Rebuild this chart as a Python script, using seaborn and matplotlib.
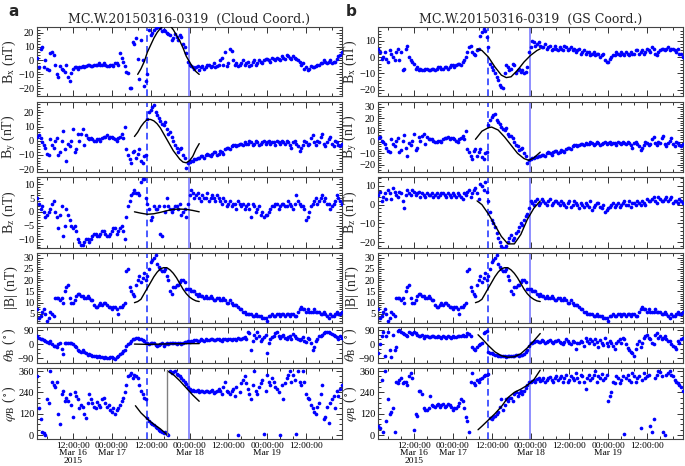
import matplotlib
matplotlib.use("Agg")
import matplotlib.pyplot as plt
import pandas as pd
import seaborn as sns
from matplotlib.ticker import FixedLocator, MultipleLocator

# ---------------- data (hours since 2015-03-16 00:00 UT) ----------------
hours = list(range(1, 96))                       # on-the-hour samples
hours_half = [h + 0.5 for h in range(1, 95)]     # half-hour samples

# Cloud coordinates (panel a) -- hourly
bx_cloud = [2, 8, -5, -6, 5, 4, -10, -4, -7, -3,
            -15, -6, -5, -5, -4, -4, -3, -4, -3, -2,
            -3, -3, -4, -3, -2, -3, 2, -4, -9, -20,
            12, 1, 15, -18, -10, 18, 22, 24, 23, 22,
            20, 18, 16, 17, 18, 12, 5, -3, -5, -5,
            -7, -4, -5, -3, -4, -5, -3, 2, 6, -2,
            7, -3, -4, -2, -3, -1, -3, 0, -2, -1,
            0, 1, -1, 1, 2, 0, 2, 4, 2, 3,
            1, -1, -2, -5, -6, -5, -4, -3, -2, -1,
            -1, -2, -1, 3, 6]
by_cloud = [3, 2, -3, -9, 1, -5, 2, -8, 7, -14,
            -4, 8, -6, 0, 8, 4, 1, 1, 0, 1,
            2, 3, 2, 3, 1, 2, 5, 10, -10, -16,
            -7, -9, -14, -11, 15, 22, 25, 18, 14, 11,
            8, 6, 0, -5, -6, -10, -19, -15, -14, -13,
            -12, -11, -10, -10, -9, -8, -9, -8, -6, -5,
            -4, -3, -3, -2, -1, -2, -1, -2, -1, -2,
            0, -1, -2, -1, 0, -2, -1, 0, -3, -1,
            -2, -7, -3, -1, -2, 4, -3, -1, 5, -4,
            1, -2, 0, -3, -2]
bz_cloud = [5, 1, 0, -1, 1, 4, -2, -1, -9, 1,
            -3, -6, -7, -11, -12, -10, -11, -9, -8, -9,
            -7, -8, -9, -7, -6, -7, -5, -10, 2, 6,
            8, 7, 11, 12, 3, -3, 2, 1, -8, 2,
            5, 1, 1, 2, 3, 0, -2, 6, 7, 6,
            5, 6, 5, 4, 6, 4, 5, 3, 4, 3,
            2, 3, 4, 2, 1, 3, -2, 2, 1, -1,
            -2, -1, 1, 2, 3, 2, 3, 2, 3, 1,
            6, 3, 2, -3, 0, 3, 5, 4, 6, 5,
            3, 2, 4, 5, 3]
b_total = [7, 4, 7, 2, 6, 4, 12, 11, 10, 17,
           12, 10, 13, 14, 13, 12, 12, 11, 8, 9,
           9, 10, 8, 7, 8, 5, 8, 10, 25, 15,
           13, 20, 19, 23, 22, 28, 30, 27, 25, 24,
           22, 15, 17, 18, 19, 20, 16, 16, 15, 14,
           14, 13, 13, 12, 12, 11, 12, 11, 11, 10,
           10, 9, 8, 7, 6, 5, 5, 4, 4, 4,
           3, 2, 4, 4, 5, 4, 5, 5, 4, 5,
           4, 7, 7, 6, 6, 6, 6, 6, 5, 5,
           3, 4, 5, 5, 6]
theta_cloud = [55, 35, 25, 15, 20, -10, -20, 5, -65, 5,
               10, 0, -20, -45, -40, -60, -65, -75, -80, -80,
               -85, -85, -90, -85, -95, -75, -55, -35, 0, 20,
               35, 40, 30, 20, 5, 10, 5, -10, 0, -15,
               5, 10, 5, 0, 10, 10, 15, 15, 20, 25,
               20, 25, 30, 25, 30, 25, 35, 20, 30, 35,
               25, 30, 40, 30, 45, 80, -35, 60, 75, 20,
               45, -60, 30, 55, 80, 40, 60, 30, 55, 65,
               40, 25, 45, 15, 30, -35, 20, 50, 60, 75,
               80, 65, 55, 30, 40]
phi_cloud = [330, 90, 10, 200, 360, 280, 300, 60, 250, 210,
             230, 100, 220, 150, 160, 95, 230, 180, 150, 170,
             200, 180, 170, 130, 120, 150, 190, 240, 330, 350,
             340, 320, 250, 210, 95, 70, 55, 40, 25, 10,
             5, 360, 355, 345, 330, 310, 285, 260, 255, 250,
             240, 250, 245, 240, 255, 240, 260, 230, 300, 240,
             250, 220, 0, 290, 330, 260, 200, 360, 230, 290,
             5, 340, 280, 300, 260, 0, 200, 320, 360, 340,
             5, 300, 360, 230, 200, 150, 120, 180, 280, 100,
             70, 200, 150, 220, 280]

# Cloud coordinates -- half-hour samples
bx_cloud_half = [-5, 10, 0, -7, 6, -3, -12, -6, -8, -12,
                 -9, -5, -6, -5, -5, -3, -4, -3, -3, -3,
                 -2, -4, -3, -4, -2, 5, -1, -8, -20, 13,
                 16, -13, 0, -15, 22, 20, 23, 24, 21, 21,
                 19, 15, 19, 15, 17, 10, -1, -4, -6, -4,
                 -5, -6, -3, -5, -2, -4, 0, -3, -4, 8,
                 0, -2, -3, 0, -2, -4, -1, -3, 0, -2,
                 1, 0, 2, 0, 1, 3, 1, 3, 1, 2,
                 0, -3, -6, -7, -4, -5, -3, -2, 0, -2,
                 0, -1, 1, 4]
by_cloud_half = [4, -1, -5, -10, -3, 0, -10, 0, -6, -2,
                 0, -8, 5, 5, -3, 2, 2, 0, 1, 0,
                 3, 4, 3, 2, 0, 3, 2, -6, -13, -8,
                 -12, -6, -16, -10, 20, 24, 20, 16, 12, 13,
                 5, 3, -3, -8, -5, -12, -16, -14, -13, -12,
                 -11, -12, -9, -11, -8, -10, -7, -9, -5, -6,
                 -3, -4, -2, -3, -2, 0, -3, 0, -3, -1,
                 -2, 0, -1, -3, -1, 0, -2, -1, -5, 0,
                 -4, -5, 0, -3, 2, -1, 0, 3, -2, -1,
                 3, -4, -1, -4]
bz_cloud_half = [3, 2, -2, 0, 3, 0, -6, 2, -5, -1,
                 -5, -5, -10, -12, -11, -10, -10, -8, -9, -8,
                 -7, -9, -8, -6, -8, -6, -7, -2, 4, 7,
                 7, 6, 12, 5, 1, -2, 1, 2, -9, 0,
                 2, 0, 2, 1, -1, 1, 3, 8, 5, 7,
                 4, 5, 7, 5, 5, 6, 4, 5, 2, 4,
                 3, 1, 3, 3, 2, 1, 3, 0, 2, 0,
                 -1, 0, 2, 3, 1, 3, 2, 4, 2, 3,
                 4, 2, 1, -2, 2, 4, 3, 5, 4, 3,
                 1, 3, 6, 4]
b_total_half = [3, 6, 5, 3, 5, 12, 12, 12, 15, 18,
                10, 11, 14, 13, 12, 13, 11, 9, 8, 10,
                10, 9, 8, 8, 7, 8, 9, 24, 17, 14,
                18, 22, 21, 20, 25, 29, 31, 26, 24, 25,
                20, 14, 17, 18, 20, 19, 16, 15, 15, 13,
                13, 12, 12, 13, 11, 12, 11, 12, 10, 11,
                9, 9, 7, 6, 5, 5, 4, 5, 4, 3,
                3, 4, 5, 4, 5, 5, 4, 5, 5, 4,
                6, 8, 7, 7, 6, 7, 6, 5, 6, 4,
                5, 4, 6, 5]
theta_cloud_half = [40, 30, 20, 10, 0, -15, 0, -30, 10, 5,
                    5, -10, -35, -50, -50, -70, -70, -80, -85, -85,
                    -90, -88, -85, -90, -85, -65, -45, -15, 10, 30,
                    40, 35, 25, 10, 0, 5, -5, -5, 5, 0,
                    0, 5, 10, 5, 0, 15, 20, 20, 25, 20,
                    30, 20, 25, 30, 25, 30, 25, 35, 25, 30,
                    35, 25, 35, 40, 30, 70, 20, 40, 50, 35,
                    60, 10, 45, 70, 50, 55, 40, 45, 35, 50,
                    30, 35, 20, 40, 10, -20, 35, 55, 70, 80,
                    70, 60, 45, 50]
phi_cloud_half = [150, 20, 0, 180, 300, 270, 120, 230, 190, 190,
                  170, 240, 200, 170, 120, 180, 200, 160, 185, 160,
                  210, 160, 140, 150, 140, 170, 210, 280, 340, 320,
                  330, 280, 230, 200, 80, 65, 45, 30, 15, 20,
                  0, 350, 360, 335, 320, 300, 270, 250, 245, 255,
                  245, 240, 250, 245, 235, 250, 245, 270, 250, 230,
                  260, 270, 240, 310, 290, 230, 280, 250, 270, 310,
                  250, 300, 320, 270, 240, 280, 290, 340, 300, 310,
                  360, 280, 300, 210, 170, 130, 160, 230, 90, 160,
                  180, 220, 250, 260]

# GS coordinates (panel b) -- hourly
bx_gs = [5, -1, 3, -3, 2, -2, 5, 3, -7, 7,
         -2, -4, -6, -7, -8, -7, -8, -7, -7, -6,
         -7, -6, -6, -5, -5, -4, -3, 0, 6, 3,
         1, 5, 15, 16, 6, -6, -10, -14, -18, -10,
         -6, -7, -5, -8, -9, -10, -6, 6, 9, 8,
         7, 6, 5, 7, 5, 5, 6, 4, 6, 5,
         4, 3, 5, 3, 2, 3, 2, 1, 2, 1,
         -2, -3, 0, 1, 2, 3, 1, 2, 3, 2,
         4, 3, 2, 5, 3, 5, 1, 4, 5, 5,
         4, 5, 3, 2, 0]
by_gs = [3, 1, -2, -8, 2, -4, 3, -7, 6, -12,
         -3, 7, -5, 1, 7, 4, 2, 1, 0, 1,
         2, 3, 2, 3, 1, 2, 5, 9, -9, -15,
         -6, -9, -13, -10, 14, 21, 24, 17, 13, 10,
         7, 5, 0, -4, -6, -10, -18, -15, -14, -13,
         -12, -11, -10, -10, -9, -8, -9, -8, -6, -5,
         -4, -3, -3, -2, -1, -2, -1, -2, -1, -2,
         0, -1, -2, -1, 0, -2, -1, 0, -3, -1,
         -2, -7, -3, -1, -2, 4, -3, -1, 5, -4,
         1, -2, 0, -3, -2]
bz_gs = [5, 2, 6, 8, 3, 7, 4, 6, -2, 8,
         5, 7, 6, 4, 5, 6, 5, 4, 6, 5,
         6, 4, 5, 6, 4, 5, 3, 5, 8, 6,
         9, 3, 10, 12, 2, -8, -12, -18, -22, -24,
         -20, -16, -18, -14, -10, -8, -5, 2, 0, 3,
         1, 2, 0, 3, 1, 2, 0, 1, -1, 2,
         0, 1, -2, 0, 1, -1, -3, 0, 1, -2,
         -4, -2, 0, -1, 1, 0, 2, 0, -1, 1,
         2, 0, 1, 3, 2, 4, 1, 3, 2, 4,
         3, 1, 2, 3, 1]
theta_gs = [-60, 55, -80, 75, -85, -35, 85, 75, 65, 50,
            70, 80, 60, 55, 40, 55, 45, 50, 45, 45,
            50, 40, 45, 50, 45, 55, 60, 55, 65, -20,
            -40, -5, 5, 75, -50, -60, -70, -75, -80, -75,
            -80, -78, -75, -72, -70, -65, -35, 5, 15, 20,
            15, 20, 15, 25, 10, 20, 15, 0, 30, 10,
            20, -30, 10, 15, 40, 5, 20, 30, -20, 10,
            40, -10, 5, -30, 20, 10, 35, -25, -50, -75,
            0, -20, 40, 60, 30, 0, 70, 50, 40, 30,
            20, -10, -30, 10, 40]
phi_gs = [50, 310, 360, 200, 130, 20, 290, 320, 300, 280,
          350, 30, 110, 250, 150, 140, 220, 165, 170, 160,
          175, 165, 170, 140, 150, 180, 190, 100, 20, 350,
          280, 300, 320, 335, 345, 90, 110, 130, 200, 170,
          190, 210, 230, 220, 245, 250, 280, 300, 310, 315,
          305, 320, 310, 325, 300, 330, 320, 300, 340, 310,
          320, 350, 300, 330, 260, 340, 320, 360, 330, 345,
          320, 190, 240, 290, 320, 310, 5, 340, 300, 330,
          320, 40, 350, 330, 50, 90, 340, 355, 20, 340,
          360, 330, 300, 280, 250]

# GS coordinates -- half-hour samples
bx_gs_half = [3, 0, -1, 4, 0, 3, -2, -8, 5, 0,
              -3, -7, -8, -8, -7, -8, -7, -8, -6, -7,
              -6, -7, -5, -6, -4, -5, -2, 3, 7, 2,
              4, 13, 17, 12, -4, -8, -12, -17, -19, -5,
              -8, -4, -10, -7, -8, -9, 3, 10, 7, 9,
              6, 8, 6, 4, 7, 4, 5, 7, 4, 6,
              5, 4, 2, 4, 3, 1, 3, 2, 0, 2,
              -3, -1, 1, 3, 1, 2, 3, 1, 2, 4,
              2, 4, 3, 4, 6, 2, 3, 5, 4, 6,
              5, 4, 5, 2]
by_gs_half = [4, 0, -5, -9, -2, 1, -9, 1, -5, -1,
              1, -7, 4, 5, -2, 2, 2, 0, 1, 0,
              3, 4, 3, 2, 0, 3, 2, -6, -12, -8,
              -12, -6, -15, -9, 19, 23, 19, 15, 11, 12,
              5, 3, -3, -7, -5, -12, -16, -14, -13, -12,
              -11, -12, -9, -11, -8, -10, -7, -9, -5, -6,
              -3, -4, -2, -3, -2, 0, -3, 0, -3, -1,
              -2, 0, -1, -3, -1, 0, -2, -1, -5, 0,
              -4, -5, 0, -3, 2, -1, 0, 3, -2, -1,
              3, -4, -1, -4]
bz_gs_half = [7, 4, 3, 6, 9, 5, 7, 2, 5, 6,
              8, 5, 7, 6, 4, 5, 6, 5, 4, 6,
              5, 6, 4, 5, 6, 4, 6, 7, 4, 8,
              6, 11, 8, 7, -4, -10, -15, -20, -23, -22,
              -18, -19, -15, -12, -11, -6, -2, 1, 2, 0,
              3, 1, 2, 0, 2, 1, 2, 0, 1, -1,
              2, 0, 1, -1, 0, 2, -1, 1, -1, 0,
              -3, -1, 1, 0, -1, 1, 0, 2, 1, 0,
              1, 2, 0, 2, 3, 2, 4, 2, 3, 2,
              4, 2, 1, 2]
theta_gs_half = [0, 80, 50, -40, 60, -20, 90, 70, 60, 75,
                 65, 70, 55, 60, 50, 45, 50, 45, 50, 40,
                 45, 50, 40, 45, 50, 50, 55, 70, 50, -30,
                 -20, 0, 70, 85, -55, -65, -72, -78, -75, -82,
                 -76, -80, -73, -78, -68, -50, -10, 10, 20, 15,
                 25, 10, 20, 15, 20, 25, 10, 15, 20, 0,
                 15, 5, 20, -10, 20, 30, 0, 15, 25, -5,
                 10, 20, -15, 10, 30, 40, 0, -40, -60, -30,
                 20, 10, 50, 40, 10, 60, 40, 30, 50, 20,
                 0, -20, 20, 30]
phi_gs_half = [40, 20, 80, 120, 150, 300, 310, 290, 300, 330,
               320, 120, 250, 230, 140, 150, 170, 160, 175, 170,
               160, 175, 160, 150, 165, 200, 150, 80, 300, 290,
               310, 315, 330, 340, 95, 100, 120, 160, 140, 200,
               210, 190, 240, 235, 230, 265, 300, 305, 300, 320,
               310, 300, 320, 310, 320, 310, 330, 320, 300, 330,
               310, 320, 340, 300, 320, 310, 340, 300, 320, 310,
               340, 220, 300, 330, 290, 330, 320, 310, 350, 300,
               330, 310, 320, 340, 20, 320, 360, 330, 0, 350,
               340, 310, 290, 270]

# model fit curves
fit_bx_cloud_h = [32, 33, 34, 35, 36, 37, 38, 39, 40, 41, 42, 43, 44, 45, 46, 47, 48, 49, 50, 51]
fit_bx_cloud = [-10, -6, -1, 6, 11, 16, 20, 23, 25, 26, 25, 22, 18, 14, 9, 3, -1, -5, -8, -10]
fit_by_cloud_h = [31, 32, 33, 34, 35, 36, 37, 38, 39, 40, 41, 42, 43, 44, 45, 46, 47, 48, 49, 50, 51]
fit_by_cloud = [3, 6, 10, 13, 15, 15, 14, 12, 9, 5, 1, -3, -7, -10, -13, -15, -15.5, -14, -11, -6, -2]
fit_bz_cloud_h = [31, 33, 35, 37, 39, 41, 43, 45, 47, 49, 51]
fit_bz_cloud = [0, -0.5, -0.9, -0.7, -0.2, 0.4, 0.9, 1.0, 0.9, 0.5, 0]
fit_b_h = [31, 32, 33, 34, 35, 36, 37, 38, 39, 40, 41, 42, 43, 44, 45, 46, 47, 48, 49, 50, 51]
fit_b = [10, 10.5, 11.5, 14, 16.5, 19, 21.5, 23.5, 25, 25.5, 25.5, 24.5, 23, 21, 18.5, 16, 14, 12.5, 11.5, 10.8, 10.5]
fit_theta_cloud_h = [31, 33, 35, 37, 39, 41, 43, 45, 47, 49, 51]
fit_theta_cloud = [0, -1, -2, -1, 0, 1, 2, 2, 3, 3, 3]
fit_phi_cloud_h1 = [31.3, 33, 35, 37, 39, 41.2]
fit_phi_cloud1 = [165, 125, 90, 60, 35, 0]
fit_phi_cloud_h2 = [41.2, 43, 45, 47, 49, 51]
fit_phi_cloud2 = [360, 340, 305, 265, 225, 190]

fit_bx_gs_h = [31.5, 33, 35, 37, 39, 40.5, 42, 44, 46, 48, 50, 51]
fit_bx_gs = [5, 4, 0, -6, -11, -12.5, -12, -8, -3, 1, 4, 5]
fit_by_gs_h = [31, 33, 35, 36, 38, 40, 42, 44, 46, 47.5, 49, 51]
fit_by_gs = [2, 9, 12, 12.5, 10, 4, -3, -10, -14.5, -16, -14, -9]
fit_bz_gs_h = [31.5, 33, 35, 37, 39, 41, 43, 45, 47, 49, 51]
fit_bz_gs = [2, 0, -5, -11, -17, -21, -21, -16, -8, -2, 2]
fit_theta_gs_h = [31.8, 33, 35, 37, 39, 41, 43, 45, 47, 49, 51]
fit_theta_gs = [60, 35, -10, -50, -75, -85, -82, -62, -25, 20, 68]
fit_phi_gs_h = [31.8, 33, 35, 37, 39, 41, 43, 45, 47, 49, 51]
fit_phi_gs = [30, 50, 85, 120, 160, 210, 240, 258, 280, 310, 365]

mc_start = 34.8   # dashed line
mc_end = 47.8     # solid line

tick_hours = [12, 24, 36, 48, 60, 72, 84]
tick_labels = ["12:00:00\nMar 16\n2015", "00:00:00\nMar 17", "12:00:00",
               "00:00:00\nMar 18", "12:00:00", "00:00:00\nMar 19", "12:00:00"]

titles = ["MC.W.20150316-0319  (Cloud Coord.)", "MC.W.20150316-0319  (GS Coord.)"]
ylabels = [r"B$_\mathrm{x}$ (nT)", r"B$_\mathrm{y}$ (nT)", r"B$_\mathrm{z}$ (nT)",
           r"|B| (nT)", r"$\theta_\mathrm{B}$ ($^\circ$)", r"$\varphi_\mathrm{B}$ ($^\circ$)"]

# ---------------- styling ----------------
sns.set_style("ticks")
plt.rcParams["font.family"] = ["Liberation Serif", "DejaVu Serif"]
plt.rcParams["mathtext.fontset"] = "stix"

W, H = 685, 466
fig = plt.figure(figsize=(W / 100, H / 100), dpi=100)
rows = [(27, 96), (102, 172), (177, 248), (253, 323), (327, 363), (368, 439)]
cols = [(37, 342), (378, 683)]

columns = [
    dict(series=[(bx_cloud, bx_cloud_half), (by_cloud, by_cloud_half), (bz_cloud, bz_cloud_half),
                 (b_total, b_total_half), (theta_cloud, theta_cloud_half), (phi_cloud, phi_cloud_half)],
         fits=[[(fit_bx_cloud_h, fit_bx_cloud)], [(fit_by_cloud_h, fit_by_cloud)],
               [(fit_bz_cloud_h, fit_bz_cloud)], [(fit_b_h, fit_b)],
               [(fit_theta_cloud_h, fit_theta_cloud)],
               [(fit_phi_cloud_h1, fit_phi_cloud1), (fit_phi_cloud_h2, fit_phi_cloud2)]],
         ylims=[(-25.5, 24), (-22, 27.3), (-13.2, 12.7), (1, 32), (-122, 110), (-22, 377)],
         yticks=[[-20, -10, 0, 10, 20], [-20, -10, 0, 10, 20], [-10, -5, 0, 5, 10],
                 [5, 10, 15, 20, 25, 30], [-90, 0, 90], [0, 120, 240, 360]],
         yminor=[2, 2, 1, 1, 30, 30]),
    dict(series=[(bx_gs, bx_gs_half), (by_gs, by_gs_half), (bz_gs, bz_gs_half),
                 (b_total, b_total_half), (theta_gs, theta_gs_half), (phi_gs, phi_gs_half)],
         fits=[[(fit_bx_gs_h, fit_bx_gs)], [(fit_by_gs_h, fit_by_gs)],
               [(fit_bz_gs_h, fit_bz_gs)], [(fit_b_h, fit_b)],
               [(fit_theta_gs_h, fit_theta_gs)], [(fit_phi_gs_h, fit_phi_gs)]],
         ylims=[(-23.7, 18.3), (-26, 34), (-23.2, 14.8), (1, 32), (-122, 110), (-22, 377)],
         yticks=[[-20, -10, 0, 10], [-20, -10, 0, 10, 20, 30], [-20, -10, 0, 10],
                 [5, 10, 15, 20, 25, 30], [-90, 0, 90], [0, 120, 240, 360]],
         yminor=[2, 2, 2, 1, 30, 30]),
]

for ci, (x0, x1) in enumerate(cols):
    spec = columns[ci]
    for ri, (y0, y1) in enumerate(rows):
        ax = fig.add_axes([x0 / W, 1 - y1 / H, (x1 - x0) / W, (y1 - y0) / H])
        full, half = spec["series"][ri]
        df = pd.DataFrame({"t": hours + hours_half, "v": full + half})
        sns.scatterplot(data=df, x="t", y="v", ax=ax, color="#0000ff",
                        s=7, linewidth=0, legend=False, zorder=3)
        segs = spec["fits"][ri]
        for fh, fv in segs:
            sns.lineplot(x=fh, y=fv, ax=ax, color="black", lw=1.0,
                         estimator=None, sort=False, legend=False, zorder=4)
        if len(segs) == 2:
            ax.plot([segs[0][0][-1], segs[1][0][0]], [segs[0][1][-1], segs[1][1][0]],
                    color="#808080", lw=1.0, zorder=4)
        ax.axvline(mc_start, color="#2a3dff", lw=1.2, ls=(0, (4, 2.5)), zorder=2)
        ax.axvline(mc_end, color="#7b7bff", lw=1.2, zorder=2)
        ax.set_xlim(0.9, 95.1)
        ax.set_ylim(*spec["ylims"][ri])
        ax.yaxis.set_major_locator(FixedLocator(spec["yticks"][ri]))
        ax.yaxis.set_minor_locator(MultipleLocator(spec["yminor"][ri]))
        ax.xaxis.set_major_locator(FixedLocator(tick_hours))
        ax.xaxis.set_minor_locator(MultipleLocator(4))
        ax.tick_params(which="both", direction="in", top=True, right=True,
                       colors="#333333", labelcolor="black", width=0.7)
        ax.tick_params(which="major", length=4, labelsize=7.5, pad=2)
        ax.tick_params(which="minor", length=2)
        for sp in ax.spines.values():
            sp.set_linewidth(0.8)
            sp.set_color("#444444")
        ax.set_ylabel(ylabels[ri], fontsize=10, labelpad=1)
        ax.yaxis.set_label_coords(-0.062, 0.5)
        ax.set_xlabel("")
        if ri == len(rows) - 1:
            ax.set_xticklabels(tick_labels, fontsize=6.8, linespacing=0.95)
        else:
            ax.set_xticklabels([])
        if ri == 0:
            ax.set_title(titles[ci], fontsize=9, pad=3, family="DejaVu Serif")

fig.text(8 / W, 1 - 12 / H, "a", fontsize=11, fontweight="bold", family="DejaVu Sans", va="center")
fig.text(346 / W, 1 - 12 / H, "b", fontsize=11, fontweight="bold", family="DejaVu Sans", va="center")

fig.savefig("out.png", dpi=100)
